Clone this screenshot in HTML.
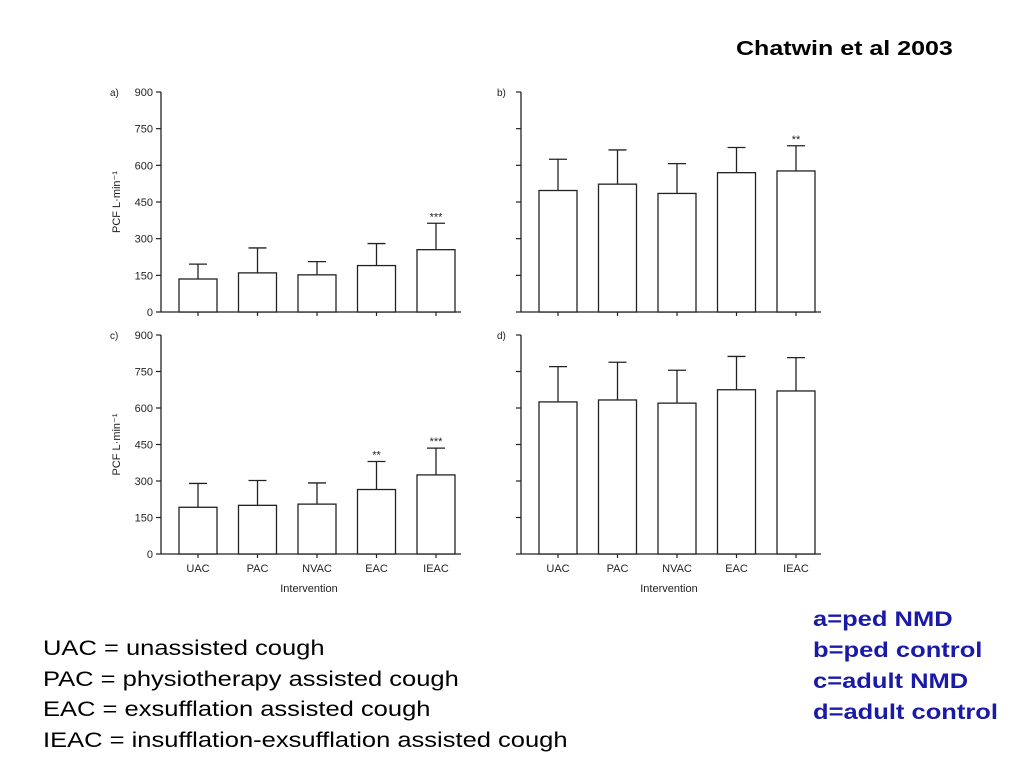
<!DOCTYPE html>
<html><head><meta charset="utf-8"><style>
body{margin:0;background:#fff;width:1024px;height:768px;overflow:hidden;font-family:"Liberation Sans",sans-serif;}
.t{position:absolute;white-space:nowrap;transform-origin:0 0}
</style></head><body>
<div class="t" style="left:736px;top:37px;font-size:20.5px;font-weight:bold;transform:scaleX(1.22)">Chatwin et al 2003</div>
<svg id="chart" width="1024" height="768" style="position:absolute;left:0;top:0"></svg>
<div class="t" style="left:43px;top:634px;font-size:21px;line-height:30.5px;color:#000;transform:scaleX(1.215)">
UAC = unassisted cough<br>PAC = physiotherapy assisted cough<br>EAC = exsufflation assisted cough<br>IEAC = insufflation-exsufflation assisted cough</div>
<div class="t" style="left:813px;top:604px;font-size:21px;line-height:31px;font-weight:bold;color:#1a1aa8;transform:scaleX(1.215)">
a=ped NMD<br>b=ped control<br>c=adult NMD<br>d=adult control</div>
<script>
const categories=["UAC","PAC","NVAC","EAC","IEAC"];
const yTicks=[0,150,300,450,600,750,900];
const meanA=[135,160,152,190,255], errA=[196,262,206,280,363], sigA=["","","","","***"];
const meanB=[497,523,485,570,577], errB=[625,663,607,673,680], sigB=["","","","","**"];
const meanC=[192,200,205,265,325], errC=[290,302,292,380,435], sigC=["","","","**","***"];
const meanD=[625,633,620,675,670], errD=[770,788,755,812,807], sigD=["","","","",""];
const svg=document.getElementById('chart');const NS="http://www.w3.org/2000/svg";
function mk(t,a,txt){const e=document.createElementNS(NS,t);for(const k in a)e.setAttribute(k,a[k]);if(txt!=null)e.textContent=txt;svg.appendChild(e);return e;}
const panels=[
 {id:"a",ax:161,y0:312,y1:92,m:meanA,e:errA,s:sigA,lab:true,cat:false,lx:110},
 {id:"b",ax:521,y0:312,y1:92,m:meanB,e:errB,s:sigB,lab:false,cat:false,lx:497},
 {id:"c",ax:161,y0:554,y1:335,m:meanC,e:errC,s:sigC,lab:true,cat:true,lx:110},
 {id:"d",ax:521,y0:554,y1:335,m:meanD,e:errD,s:sigD,lab:false,cat:true,lx:497}];
panels.forEach(p=>{
 const y=v=>p.y0-(v/900)*(p.y0-p.y1);
 const x=i=>p.ax+37+i*59.5;
 let e=mk('line',{x1:p.ax,y1:p.y1,x2:p.ax,y2:p.y0,stroke:'#222','stroke-width':1.3});
 
 e=mk('line',{x1:p.ax,y1:p.y0,x2:p.ax+300,y2:p.y0,stroke:'#222','stroke-width':1.3});
 
 e=mk('text',{x:p.lx,y:p.y1+4,'font-size':10,fill:'#222'},p.id+')');
 
 yTicks.forEach(t=>{
  mk('line',{x1:p.ax-5,y1:y(t),x2:p.ax,y2:y(t),stroke:'#222','stroke-width':1.2});
  if(p.lab){e=mk('text',{x:p.ax-8,y:y(t)+4,'font-size':11,'text-anchor':'end',fill:'#222'},t);
   }
 });
 if(p.lab){e=mk('text',{x:0,y:0,'font-size':11,fill:'#222','text-anchor':'middle',transform:`translate(120,${(p.y0+p.y1)/2}) rotate(-90)`},'PCF L·min⁻¹');
  }
 categories.forEach((c,i)=>{
  const cx=x(i);
  mk('line',{x1:cx,y1:p.y0,x2:cx,y2:p.y0+4,stroke:'#222','stroke-width':1.2});
  e=mk('line',{x1:cx,y1:y(p.m[i]),x2:cx,y2:y(p.e[i]),stroke:'#222','stroke-width':1.3});
  
  mk('line',{x1:cx-9,y1:y(p.e[i]),x2:cx+9,y2:y(p.e[i]),stroke:'#222','stroke-width':1.3});
  e=mk('rect',{x:cx-19,y:y(p.m[i]),width:38,height:p.y0-y(p.m[i]),fill:'#fff',stroke:'#222','stroke-width':1.3});
  
  if(p.s[i]){e=mk('text',{x:cx,y:y(p.e[i])-3,'font-size':11,'text-anchor':'middle',fill:'#222'},p.s[i]);
   }
  if(p.cat){e=mk('text',{x:cx,y:p.y0+18,'font-size':11,'text-anchor':'middle',fill:'#222'},c);
   }
 });
 if(p.cat){e=mk('text',{x:p.ax+148,y:p.y0+38,'font-size':11,'text-anchor':'middle',fill:'#222'},'Intervention');
  }
});
</script>
</body></html>
